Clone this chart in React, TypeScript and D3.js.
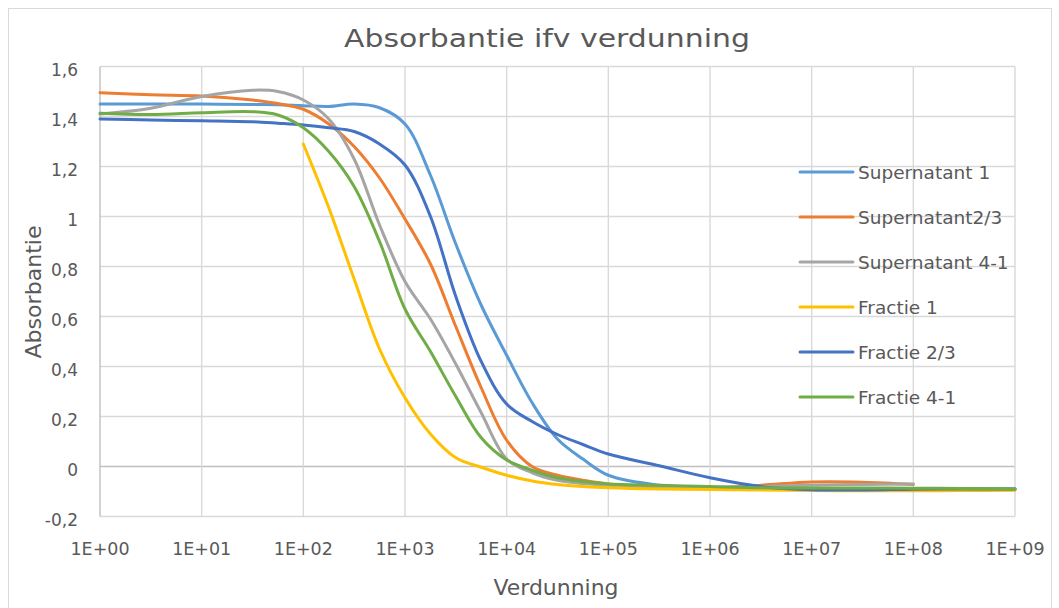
import * as d3 from 'd3';

// dilution factors (x values, log axis)
const dilutions = [1, 3.16, 10, 31.6, 56.2, 100, 178, 316, 562, 1000, 1780, 3160, 5620, 1e4, 1.78e4, 3.16e4, 5.62e4, 1e5, 3.16e5, 1e6, 3.16e6, 1e7, 3.16e7, 1e8, 3.16e8, 1e9];

const supernatant1 = [1.45, 1.45, 1.45, 1.448, 1.447, 1.443, 1.44, 1.45, 1.435, 1.37, 1.165, 0.89, 0.645, 0.445, 0.255, 0.11, 0.03, -0.035, -0.075, -0.085, -0.088, -0.09, -0.09, -0.09, -0.09, -0.09];
const supernatant23 = [1.495, 1.487, 1.482, 1.466, 1.452, 1.429, 1.37, 1.28, 1.154, 0.99, 0.81, 0.56, 0.315, 0.105, 0.0, -0.035, -0.055, -0.07, -0.082, -0.085, -0.075, -0.062, -0.063, -0.072, null, null];
const supernatant41 = [1.41, 1.433, 1.48, 1.505, 1.5, 1.466, 1.39, 1.23, 0.966, 0.74, 0.59, 0.41, 0.215, 0.03, -0.025, -0.055, -0.068, -0.075, -0.08, -0.083, -0.08, -0.075, -0.072, -0.07, null, null];
const fractie1 = [null, null, null, null, null, 1.29, 1.035, 0.75, 0.47, 0.275, 0.13, 0.035, -0.003, -0.035, -0.058, -0.072, -0.08, -0.085, -0.09, -0.092, -0.094, -0.096, -0.097, -0.097, -0.096, -0.095];
const fractie23 = [1.39, 1.386, 1.383, 1.379, 1.373, 1.366, 1.355, 1.34, 1.29, 1.206, 1.0, 0.68, 0.42, 0.25, 0.18, 0.128, 0.088, 0.05, 0.003, -0.045, -0.08, -0.093, -0.094, -0.091, -0.09, -0.09];
const fractie41 = [1.413, 1.408, 1.415, 1.419, 1.406, 1.355, 1.26, 1.12, 0.9, 0.63, 0.46, 0.28, 0.115, 0.026, -0.015, -0.045, -0.06, -0.07, -0.075, -0.08, -0.085, -0.086, -0.086, -0.087, -0.088, -0.09];

const seriesNames = ['Supernatant 1', 'Supernatant2/3', 'Supernatant 4-1', 'Fractie 1', 'Fractie 2/3', 'Fractie 4-1'];
const seriesColors = ['#5B9BD5', '#ED7D31', '#A5A5A5', '#FFC000', '#4472C4', '#70AD47'];
const seriesValues = [supernatant1, supernatant23, supernatant41, fractie1, fractie23, fractie41];

const xTicks = [1, 10, 100, 1000, 1e4, 1e5, 1e6, 1e7, 1e8, 1e9];
const xTickLabels = ['1E+00', '1E+01', '1E+02', '1E+03', '1E+04', '1E+05', '1E+06', '1E+07', '1E+08', '1E+09'];
const yTicks = [-0.2, 0, 0.2, 0.4, 0.6, 0.8, 1, 1.2, 1.4, 1.6];
const yTickLabels = ['-0,2', '0', '0,2', '0,4', '0,6', '0,8', '1', '1,2', '1,4', '1,6'];

const W = 1059;
const H = 608;
const font = 'DejaVu Sans, sans-serif';

export default function App() {
  const x = d3.scaleLog().domain([1, 1e9]).range([100, 1015]);
  const y = d3.scaleLinear().domain([-0.2, 1.6]).range([516.5, 66.5]);

  const line = d3.line<[number, number]>()
    .x(d => x(d[0]))
    .y(d => y(d[1]))
    .curve(d3.curveCatmullRom.alpha(0.5));

  const paths = seriesValues.map(vals => {
    const pts: [number, number][] = [];
    vals.forEach((v, i) => { if (v != null) pts.push([dilutions[i], v]); });
    return line(pts) || '';
  });

  return (
    <svg width={W} height={H} style={{ position: 'absolute', left: 0, top: 0, background: '#fff' }}>
      <rect x={8.5} y={8.5} width={1043} height={610} fill="#fff" stroke="#D9D9D9" strokeWidth={1} />

      {/* gridlines */}
      {yTicks.map(t => (
        <line key={'gy' + t} x1={100} x2={1015} y1={y(t)} y2={y(t)}
          stroke={t === 0 ? '#BFBFBF' : '#D9D9D9'} strokeWidth={1.4} />
      ))}
      {xTicks.map(t => (
        <line key={'gx' + t} x1={x(t)} x2={x(t)} y1={66.5} y2={516.5}
          stroke={t === 1 ? '#BFBFBF' : '#D9D9D9'} strokeWidth={1.4} />
      ))}

      {/* series */}
      {paths.map((d, i) => (
        <path key={seriesNames[i]} d={d} fill="none" stroke={seriesColors[i]}
          strokeWidth={3} strokeLinejoin="round" strokeLinecap="round" />
      ))}

      {/* y tick labels */}
      {yTicks.map((t, i) => (
        <text key={'ly' + t} x={78} y={y(t) + 9} textAnchor="end" fontFamily={font} fontSize={17} fill="#595959">
          {yTickLabels[i]}
        </text>
      ))}
      {/* x tick labels */}
      {xTicks.map((t, i) => (
        <text key={'lx' + t} x={x(t)} y={555} textAnchor="middle" fontFamily={font} fontSize={17} fill="#595959"
          textLength={59} lengthAdjust="spacingAndGlyphs">
          {xTickLabels[i]}
        </text>
      ))}

      {/* title */}
      <text x={547} y={47} textAnchor="middle" fontFamily={font} fontSize={25} fill="#595959"
        textLength={406} lengthAdjust="spacingAndGlyphs">
        Absorbantie ifv verdunning
      </text>
      {/* axis titles */}
      <text x={556} y={595} textAnchor="middle" fontFamily={font} fontSize={21} fill="#595959"
        textLength={125} lengthAdjust="spacingAndGlyphs">
        Verdunning
      </text>
      <text transform="translate(41,292) rotate(-90)" textAnchor="middle" fontFamily={font} fontSize={21} fill="#595959"
        textLength={133} lengthAdjust="spacingAndGlyphs">
        Absorbantie
      </text>

      {/* legend */}
      {seriesNames.map((n, i) => {
        const ly = 172 + i * 45;
        return (
          <g key={'lg' + n}>
            <line x1={800} x2={853} y1={ly} y2={ly} stroke={seriesColors[i]} strokeWidth={3} strokeLinecap="round" />
            <text x={858} y={ly + 7} fontFamily={font} fontSize={18.5} fill="#595959">{n}</text>
          </g>
        );
      })}
    </svg>
  );
}
